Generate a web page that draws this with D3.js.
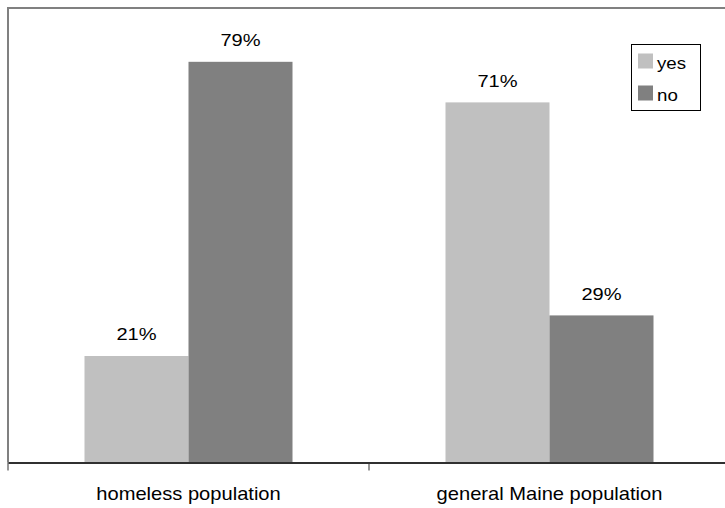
<!DOCTYPE html>
<html>
<head>
<meta charset="utf-8">
<script src="https://cdn.jsdelivr.net/npm/d3@7"></script>
<style>
  body { margin: 0; background: #fff; }
  text { font-family: "Liberation Sans", Arial, sans-serif; fill: #000; }
</style>
</head>
<body>
<div id="chart"></div>
<script>
// chart data
var categories = ["homeless population", "general Maine population"];
var seriesNames = ["yes", "no"];
var yesValues = [21, 71];
var noValues = [79, 29];
var colors = ["#c0c0c0", "#808080"];

var width = 725, height = 508;
var sx = 1.18; // text in the original is a bit stretched horizontally

var svg = d3.select("#chart").append("svg")
  .attr("width", width)
  .attr("height", height);

var data = categories.map(function (c, i) {
  return { cat: c, values: [yesValues[i], noValues[i]] };
});

var x0 = d3.scaleBand()
  .domain(categories)
  .range([8, 730]);

var groupW = 208;
var x1 = d3.scaleBand()
  .domain(seriesNames)
  .range([0, groupW]);

var y = d3.scaleLinear()
  .domain([0, 100])
  .range([462.5, -44.7]);

// plot area frame (top and left)
svg.append("line")
  .attr("x1", 8).attr("x2", width)
  .attr("y1", 8).attr("y2", 8)
  .attr("stroke", "#808080").attr("stroke-width", 2);
svg.append("line")
  .attr("x1", 8).attr("x2", 8)
  .attr("y1", 7).attr("y2", y(0))
  .attr("stroke", "#808080").attr("stroke-width", 2);

// bars
var groups = svg.selectAll(".grp")
  .data(data)
  .enter().append("g")
  .attr("class", "grp")
  .attr("transform", function (d) {
    return "translate(" + (x0(d.cat) + (x0.bandwidth() - groupW) / 2) + ",0)";
  });

groups.selectAll("rect")
  .data(function (d) { return d.values.map(function (v, i) { return { s: seriesNames[i], v: v, i: i }; }); })
  .enter().append("rect")
  .attr("x", function (d) { return x1(d.s); })
  .attr("width", x1.bandwidth())
  .attr("y", function (d) { return y(d.v); })
  .attr("height", function (d) { return y(0) - y(d.v); })
  .attr("fill", function (d) { return colors[d.i]; });

groups.selectAll(".val")
  .data(function (d) { return d.values.map(function (v, i) { return { s: seriesNames[i], v: v }; }); })
  .enter().append("text")
  .attr("class", "val")
  .attr("text-anchor", "middle")
  .attr("font-size", "17px")
  .attr("transform", function (d) {
    return "translate(" + (x1(d.s) + x1.bandwidth() / 2) + "," + (y(d.v) - 15.5) + ") scale(" + sx + ",1)";
  })
  .text(function (d) { return d.v + "%"; });

// x axis
var xAxis = d3.axisBottom(x0)
  .tickSize(0)
  .tickFormat("");
var gx = svg.append("g")
  .attr("transform", "translate(0," + y(0) + ")")
  .call(xAxis);
gx.select(".domain").attr("stroke", "#303030").attr("stroke-width", 2);

// tick marks at category boundaries
var bounds = [x0.range()[0], x0(categories[1])];
svg.selectAll(".tk")
  .data(bounds)
  .enter().append("line")
  .attr("x1", function (d) { return d; })
  .attr("x2", function (d) { return d; })
  .attr("y1", y(0))
  .attr("y2", y(0) + 8)
  .attr("stroke", "#303030")
  .attr("stroke-width", 1);

svg.selectAll(".cat")
  .data(categories)
  .enter().append("text")
  .attr("class", "cat")
  .attr("text-anchor", "middle")
  .attr("font-size", "17.5px")
  .attr("transform", function (d) {
    return "translate(" + (x0(d) + x0.bandwidth() / 2) + ",499.5) scale(1.15,1)";
  })
  .text(function (d) { return d; });

// legend
var legend = svg.append("g").attr("transform", "translate(631,44)");
legend.append("rect")
  .attr("x", 0.5).attr("y", 0.5)
  .attr("width", 69).attr("height", 66)
  .attr("fill", "#fff")
  .attr("stroke", "#000");
var li = legend.selectAll(".li")
  .data(seriesNames)
  .enter().append("g")
  .attr("transform", function (d, i) { return "translate(7," + (9.5 + i * 32) + ")"; });
li.append("rect")
  .attr("width", 15).attr("height", 15)
  .attr("fill", function (d, i) { return colors[i]; });
li.append("text")
  .attr("font-size", "17px")
  .attr("transform", "translate(19,15) scale(1.1,1)")
  .text(function (d) { return d; });
</script>
</body>
</html>
